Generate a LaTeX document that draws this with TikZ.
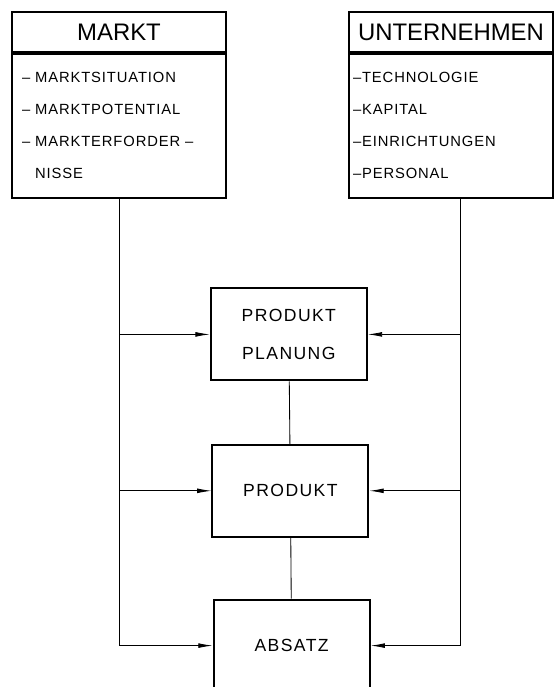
\documentclass[tikz,border=0pt]{standalone}
\usepackage{fontspec}
\setmainfont{Liberation Sans}
\newfontfamily\schrift[LetterSpace=6]{Liberation Sans}
\newfontfamily\blockschrift[LetterSpace=8]{Liberation Sans}
\usetikzlibrary{arrows.meta,positioning}

\begin{document}
\begin{tikzpicture}[line width=0.6pt,>={Latex[length=3.6mm,width=1.2mm]},
  kopf/.style={draw,line width=1.3pt,minimum height=1cm,inner sep=0pt,font=\fontsize{17}{20}\selectfont},
  liste/.style={draw,line width=1.3pt,minimum height=3.6cm,inner ysep=0pt,align=left,font=\schrift\fontsize{10.5}{22.8}\selectfont},
  block/.style={draw,line width=1.3pt,minimum width=3.9cm,minimum height=2.3cm,align=center,font=\blockschrift\fontsize{12.5}{27}\selectfont}]
\useasboundingbox (0,0) rectangle (13.9,-17.175);
\node[kopf,minimum width=5.35cm] (mkopf) at (2.975,-0.8) {MARKT};
\node[liste,minimum width=5.35cm,text width=4.85cm,inner xsep=0.25cm,below=0pt of mkopf] (mliste)
  {– MARKTSITUATION\\– MARKTPOTENTIAL\\– MARKTERFORDER –\\\phantom{– }NISSE};
\node[kopf,minimum width=5.1cm] (ukopf) at (11.275,-0.8) {UNTERNEHMEN};
\node[liste,minimum width=5.1cm,text width=4.9cm,inner xsep=0.1cm,below=0pt of ukopf] (uliste)
  {–TECHNOLOGIE\\–KAPITAL\\–EINRICHTUNGEN\\–PERSONAL};
\node[block] (planung) at (7.22,-8.36) {PRODUKT\\PLANUNG};
\node[block] (produkt) at (7.26,-12.27) {PRODUKT};
\node[block] (absatz) at (7.29,-16.14) {ABSATZ};
\coordinate (rechts) at (11.5,0);
% Markt links
\draw[->] (mliste.south) |- (absatz.west);
\draw[->] (mliste.south |- planung.west)--(planung.west);
\draw[->] (mliste.south |- produkt.west)--(produkt.west);
% Unternehmen rechts
\draw[->] (uliste.south -| rechts) |- (absatz.east);
\draw[->] (rechts |- planung.east)--(planung.east);
\draw[->] (rechts |- produkt.east)--(produkt.east);
\draw (planung)--(produkt);\draw (produkt)--(absatz);
\end{tikzpicture}
\end{document}
